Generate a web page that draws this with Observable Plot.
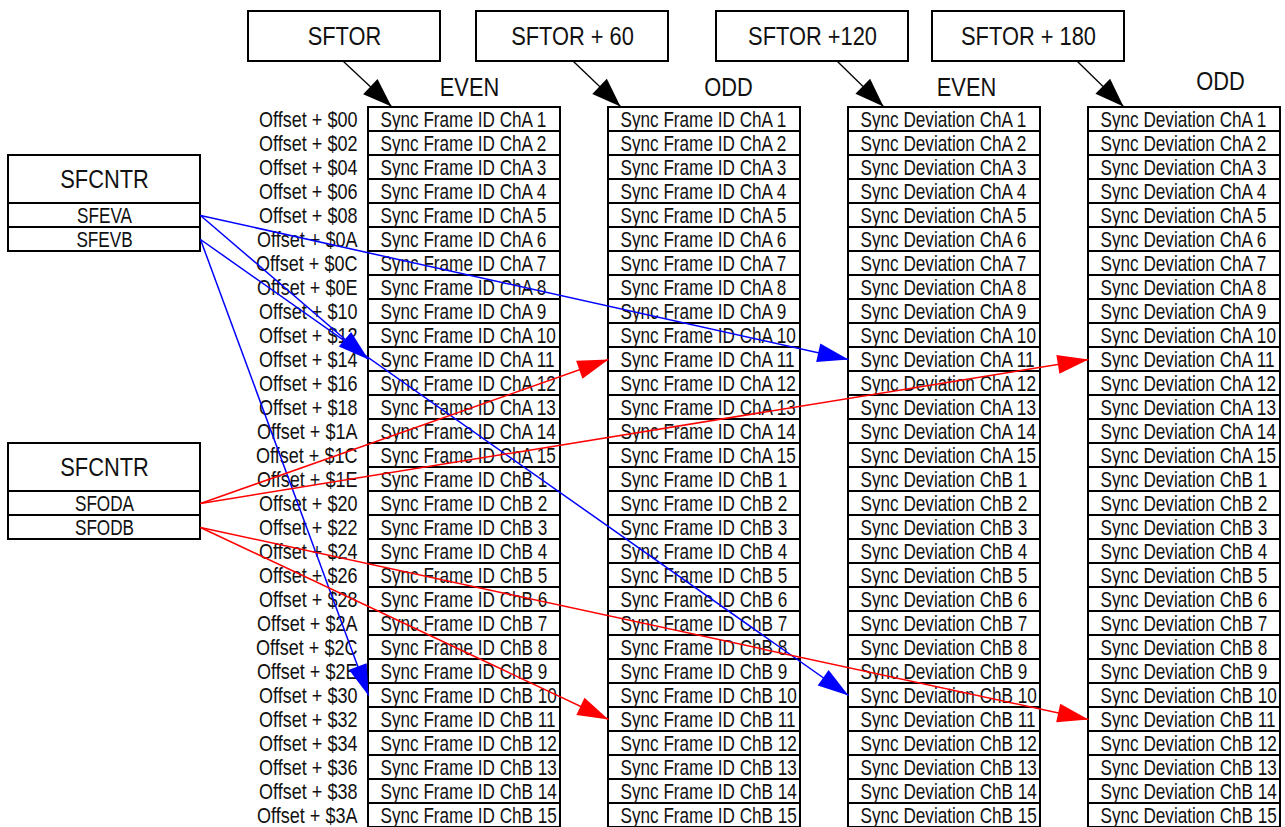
<!DOCTYPE html>
<html>
<head>
<meta charset="utf-8">
<script src="https://cdn.jsdelivr.net/npm/d3@7"></script>
<script src="https://cdn.jsdelivr.net/npm/@observablehq/plot@0.6"></script>
<style>
  html, body { margin: 0; padding: 0; background: #fff; }
  #chart svg { display: block; }
</style>
</head>
<body>
<div id="chart"></div>
<script>
// ---------------- data ----------------
const headers = ["SFTOR", "SFTOR + 60", "SFTOR +120", "SFTOR + 180"];
const parity = ["EVEN", "ODD", "EVEN", "ODD"];
const columnKinds = ["Sync Frame ID", "Sync Frame ID", "Sync Deviation", "Sync Deviation"];
const channels = ["ChA", "ChB"];
const slots = [1, 2, 3, 4, 5, 6, 7, 8, 9, 10, 11, 12, 13, 14, 15];
const offsets = ["$00", "$02", "$04", "$06", "$08", "$0A", "$0C", "$0E", "$10", "$12",
                 "$14", "$16", "$18", "$1A", "$1C", "$1E", "$20", "$22", "$24", "$26",
                 "$28", "$2A", "$2C", "$2E", "$30", "$32", "$34", "$36", "$38", "$3A"];
const registerName = "SFCNTR";
const evenFields = ["SFEVA", "SFEVB"];
const oddFields = ["SFODA", "SFODB"];
// pointers: field -> [column index, channel, slot]
const pointerFrom = ["SFEVA", "SFEVA", "SFEVB", "SFEVB", "SFODA", "SFODA", "SFODB", "SFODB"];
const pointerCol  = [0, 2, 0, 2, 1, 3, 1, 3];
const pointerCh   = ["ChA", "ChA", "ChB", "ChB", "ChA", "ChA", "ChB", "ChB"];
const pointerSlot = [11, 11, 10, 10, 11, 11, 11, 11];

// ---------------- layout (code, not data) ----------------
const W = 1285, H = 827;
const rowTop0 = 107, rowH = 24;
const colLeft = c => 368 + 240 * c, colW = 192;
const rowOf = (ch, s) => channels.indexOf(ch) * slots.length + (s - 1);
const rowMid = r => rowTop0 + rowH * r + rowH / 2;
const headLeft = [248, 476, 716, 932], headTop = 11, headBottom = 61, headW = 192;
const headArrowStart = [343, 573, 837, 1077];
const headArrowTip = [391, 620, 883, 1123];
const parityX = [469, 728, 966, 1220], parityY = [87, 87, 87, 81];
const regLeft = 8, regRight = 200, regTitleH = 48, fieldH = 24;
const regTops = [155, 443];
const fieldColor = {SFEVA: "blue", SFEVB: "blue", SFODA: "red", SFODB: "red"};
const FONT = '"Liberation Sans", Arial, sans-serif';
const condenseFor = (size, txt) => size >= 25 ? 0.84 : txt.startsWith("Offset") ? 0.82 : 0.78;

// ---------------- derived tables ----------------
const cells = [];
columnKinds.forEach((kind, c) => channels.forEach(ch => slots.forEach(s =>
  cells.push({col: c, row: rowOf(ch, s), label: `${kind} ${ch} ${s}`}))));
const offsetRows = offsets.map((o, i) => ({row: i, label: `Offset + ${o}`}));
const headerRows = headers.map((h, i) => ({i, label: h}));
const parityRows = parity.map((p, i) => ({i, label: p}));

const registers = [evenFields, oddFields].map((fields, k) => ({k, name: registerName, fields}));
const regBoxes = [];
registers.forEach(r => {
  const top = regTops[r.k];
  regBoxes.push({y1: top, y2: top + regTitleH, label: r.name, size: 26, mid: top + regTitleH / 2});
  r.fields.forEach((f, j) => regBoxes.push({
    y1: top + regTitleH + j * fieldH, y2: top + regTitleH + (j + 1) * fieldH,
    label: f, size: 22, mid: top + regTitleH + j * fieldH + fieldH / 2}));
});
const fieldY = {};
regBoxes.forEach(b => { fieldY[b.label] = b.mid; });

const pointers = pointerFrom.map((f, i) => {
  const x1 = regRight, y1 = fieldY[f];
  const x2 = colLeft(pointerCol[i]), y2 = rowMid(rowOf(pointerCh[i], pointerSlot[i]));
  return {x1, y1, x2, y2, color: fieldColor[f]};
});
const headArrows = headers.map((h, i) => ({x1: headArrowStart[i], y1: headBottom, x2: headArrowTip[i], y2: rowTop0 - 1, color: "black"}));

const angle = d => Math.atan2(d.x2 - d.x1, -(d.y2 - d.y1)) * 180 / Math.PI;
const makeHead = (L, Wd) => ({
  draw(ctx) { ctx.moveTo(0, 0); ctx.lineTo(-Wd / 2, L); ctx.lineTo(Wd / 2, L); ctx.closePath(); }
});
const colorHead = makeHead(31, 19);
const blackHead = makeHead(29, 21);

// ---------------- plot ----------------
const chart = Plot.plot({
  width: W, height: H, margin: 0,
  x: {domain: [0, W], range: [0, W], axis: null},
  y: {domain: [0, H], range: [0, H], axis: null},
  color: {type: "identity"},
  style: {fontFamily: FONT, background: "white", color: "black"},
  marks: [
    // memory cells
    Plot.rect(cells, {x1: d => colLeft(d.col), x2: d => colLeft(d.col) + colW,
      y1: d => rowTop0 + rowH * d.row, y2: d => rowTop0 + rowH * (d.row + 1),
      fill: "white", stroke: "black", strokeWidth: 2}),
    Plot.text(cells, {x: d => colLeft(d.col) + 12, y: d => rowMid(d.row), text: "label",
      textAnchor: "start", fontSize: 22, fill: "#111"}),
    // offsets
    Plot.text(offsetRows, {x: () => 357, y: d => rowMid(d.row), text: "label",
      textAnchor: "end", fontSize: 22, fill: "#111"}),
    // header boxes
    Plot.rect(headerRows, {x1: d => headLeft[d.i], x2: d => headLeft[d.i] + headW,
      y1: headTop, y2: headBottom, fill: "white", stroke: "black", strokeWidth: 2}),
    Plot.text(headerRows, {x: d => headLeft[d.i] + headW / 2, y: () => (headTop + headBottom) / 2,
      text: "label", fontSize: 26, fill: "#111"}),
    Plot.text(parityRows, {x: d => parityX[d.i], y: d => parityY[d.i], text: "label",
      fontSize: 26, fill: "#111"}),
    // register boxes
    Plot.rect(regBoxes, {x1: regLeft, x2: regRight, y1: "y1", y2: "y2",
      fill: "white", stroke: "black", strokeWidth: 2}),
    Plot.text(regBoxes, {x: () => (regLeft + regRight) / 2, y: "mid", text: "label",
      fontSize: d => d.size, fill: "#111"}),
    // header arrows
    Plot.link(headArrows, {x1: "x1", y1: "y1", x2: "x2", y2: "y2", stroke: "color", strokeWidth: 1.3}),
    Plot.dot(headArrows, {x: "x2", y: "y2", rotate: angle, symbol: blackHead, fill: "color", stroke: "none", r: 10}),
    // pointer arrows
    Plot.link(pointers, {x1: "x1", y1: "y1", x2: "x2", y2: "y2", stroke: "color", strokeWidth: 1.5}),
    Plot.dot(pointers, {x: "x2", y: "y2", rotate: angle, symbol: colorHead, fill: "color", stroke: "none", r: 10})
  ]
});
document.getElementById("chart").appendChild(chart);
// condense glyphs horizontally (about each text's anchor) to mimic the narrow typeface of the reference
chart.querySelectorAll("text").forEach(t => {
  const size = parseFloat(t.getAttribute("font-size") || t.parentNode.getAttribute("font-size") || getComputedStyle(t).fontSize);
  const k = condenseFor(size, t.textContent);
  const base = t.getAttribute("transform");
  if (base) {
    t.setAttribute("transform", `${base} scale(${k},1)`);
  } else {
    const L = t.getComputedTextLength();
    t.setAttribute("textLength", (L * k).toFixed(1));
    t.setAttribute("lengthAdjust", "spacingAndGlyphs");
  }
});
</script>
</body>
</html>
